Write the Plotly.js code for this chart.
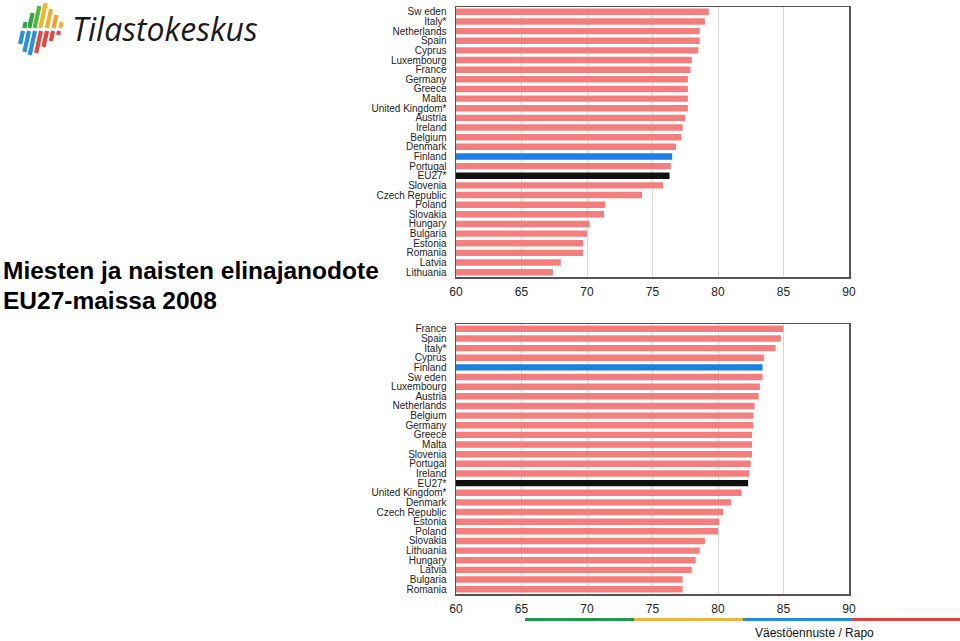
<!DOCTYPE html>
<html>
<head>
<meta charset="utf-8">
<script src="https://cdn.plot.ly/plotly-3.0.1.min.js"></script>
<style>
  html, body { margin: 0; padding: 0; background: #fff; }
  #chart { width: 960px; height: 641px; }
</style>
</head>
<body>
<div id="chart"></div>
<script>
// ---- Data: men's life expectancy 2008 (top chart) ----
const menCountries = ["Sw eden", "Italy*", "Netherlands", "Spain", "Cyprus", "Luxembourg", "France",
  "Germany", "Greece", "Malta", "United Kingdom*", "Austria", "Ireland", "Belgium", "Denmark",
  "Finland", "Portugal", "EU27*", "Slovenia", "Czech Republic", "Poland", "Slovakia", "Hungary",
  "Bulgaria", "Estonia", "Romania", "Latvia", "Lithuania"];
const menValues = [79.3, 79.0, 78.6, 78.6, 78.5, 78.0, 77.9,
  77.7, 77.7, 77.7, 77.7, 77.5, 77.3, 77.2, 76.8,
  76.5, 76.4, 76.3, 75.8, 74.2, 71.4, 71.3, 70.2,
  70.0, 69.7, 69.7, 68.0, 67.4];

// ---- Data: women's life expectancy 2008 (bottom chart) ----
const womenCountries = ["France", "Spain", "Italy*", "Cyprus", "Finland", "Sw eden", "Luxembourg",
  "Austria", "Netherlands", "Belgium", "Germany", "Greece", "Malta", "Slovenia", "Portugal",
  "Ireland", "EU27*", "United Kingdom*", "Denmark", "Czech Republic", "Estonia", "Poland",
  "Slovakia", "Lithuania", "Hungary", "Latvia", "Bulgaria", "Romania"];
const womenValues = [85.0, 84.8, 84.4, 83.5, 83.4, 83.4, 83.2,
  83.1, 82.8, 82.7, 82.7, 82.6, 82.6, 82.6, 82.5,
  82.4, 82.3, 81.8, 81.0, 80.4, 80.1, 80.0,
  79.0, 78.6, 78.3, 78.0, 77.3, 77.3];

const xTicks = [60, 65, 70, 75, 80, 85, 90];
const titleLines = ["Miesten ja naisten elinajanodote", "EU27-maissa 2008"];
const sourceText = "Väestöennuste / Rapo";
const logoText = "Tilastokeskus";

const BASE = "#f47e7e", FIN = "#1b7fe3", EU = "#111111";
function colorsFor(cats) {
  return cats.map(c => c === "Finland" ? FIN : (c === "EU27*" ? EU : BASE));
}

const W = 960, H = 641;
const px = x => x / W;
const py = y => 1 - y / H;

const traces = [
  { type: "bar", orientation: "h", x: menValues, y: menCountries,
    marker: { color: colorsFor(menCountries) }, xaxis: "x", yaxis: "y",
    hoverinfo: "x+y", showlegend: false },
  { type: "bar", orientation: "h", x: womenValues, y: womenCountries,
    marker: { color: colorsFor(womenCountries) }, xaxis: "x2", yaxis: "y2",
    hoverinfo: "x+y", showlegend: false }
];

const xBase = {
  range: [60, 90], tickmode: "array", tickvals: xTicks, ticktext: xTicks.map(String),
  showgrid: true, gridcolor: "#d6d6d6", gridwidth: 1,
  showline: true, mirror: true, linecolor: "#555", linewidth: 1.5,
  ticks: "", zeroline: false, fixedrange: true,
  tickfont: { family: "Liberation Sans, Arial, sans-serif", size: 12, color: "#222" },
  ticklabelstandoff: 3
};
const yBase = {
  type: "category", autorange: "reversed", showgrid: false,
  showline: true, mirror: true, linecolor: "#555", linewidth: 1.5,
  ticks: "", zeroline: false, fixedrange: true, tickmode: "array",
  tickfont: { family: "Liberation Sans, Arial, sans-serif", size: 10, color: "#222" },
  ticklabelstandoff: 6
};

const xDomain = [px(456), px(849)];
const layout = {
  width: W, height: H,
  margin: { l: 0, r: 0, t: 0, b: 0 },
  paper_bgcolor: "#fff", plot_bgcolor: "#fff",
  bargap: 0.33,
  showlegend: false,
  xaxis: Object.assign({}, xBase, { domain: xDomain, anchor: "y" }),
  yaxis: Object.assign({}, yBase, { domain: [py(277), py(7)], anchor: "x",
    categoryorder: "array", categoryarray: menCountries,
    tickvals: menCountries, ticktext: menCountries }),
  xaxis2: Object.assign({}, xBase, { domain: xDomain, anchor: "y2" }),
  yaxis2: Object.assign({}, yBase, { domain: [py(594), py(324)], anchor: "x2",
    categoryorder: "array", categoryarray: womenCountries,
    tickvals: womenCountries, ticktext: womenCountries }),
  annotations: [
    { xref: "paper", yref: "paper", x: px(1), y: py(271), xanchor: "left", yanchor: "middle",
      text: titleLines[0], showarrow: false,
      font: { family: "Liberation Sans, Arial, sans-serif", size: 24.5, color: "#000", weight: "bold" } },
    { xref: "paper", yref: "paper", x: px(1), y: py(300), xanchor: "left", yanchor: "middle",
      text: titleLines[1], showarrow: false,
      font: { family: "Liberation Sans, Arial, sans-serif", size: 24.5, color: "#000", weight: "bold" } },
    { xref: "paper", yref: "paper", x: px(753), y: py(633), xanchor: "left", yanchor: "middle",
      text: sourceText, showarrow: false,
      font: { family: "Liberation Sans, Arial, sans-serif", size: 12, color: "#111" } },
    { xref: "paper", yref: "paper", x: px(70), y: py(29), xanchor: "left", yanchor: "middle",
      text: logoText, showarrow: false,
      font: { family: "Open Sans, sans-serif", size: 32, color: "#1a1a1a", style: "italic" } }
  ],
  shapes: []
};

// Footer colour band
const bandColors = ["#1e9a4b", "#f0b43a", "#1f8fd6", "#e0413f"];
const bandEdges = [525, 634, 743, 852, 960];
for (let i = 0; i < 4; i++) {
  layout.shapes.push({ type: "line", xref: "paper", yref: "paper",
    x0: px(bandEdges[i]), x1: px(bandEdges[i + 1]), y0: py(619.5), y1: py(619.5),
    line: { color: bandColors[i], width: 3 } });
}

// Logo strips (decorative)
const strips = [
  { x: 25, top: 22, topColor: "#2aa84a", bottom: 44, botColor: "#2a8fdc" },
  { x: 31, top: 13, topColor: "#2aa84a", bottom: 52, botColor: "#2a8fdc" },
  { x: 37, top: 6,  topColor: "#5ab43c", bottom: 55, botColor: "#2a8fdc" },
  { x: 43, top: 3,  topColor: "#e8b830", bottom: 53, botColor: "#e04848" },
  { x: 49, top: 9,  topColor: "#f0b030", bottom: 47, botColor: "#e04848" },
  { x: 55, top: 15, topColor: "#f0a030", bottom: 41, botColor: "#e04848" },
  { x: 61, top: 22, topColor: "#f0b040", bottom: 35, botColor: "#e04848" }
];
const slant = 0.22;
strips.forEach(s => {
  const midTop = 28, midBot = 31;
  layout.shapes.push({ type: "line", xref: "paper", yref: "paper",
    x0: px(s.x - slant * (midTop - s.top) / 2), y0: py(midTop),
    x1: px(s.x + slant * (midTop - s.top) / 2), y1: py(s.top),
    line: { color: s.topColor, width: 4.2 } });
  layout.shapes.push({ type: "line", xref: "paper", yref: "paper",
    x0: px(s.x - 2 - slant * (s.bottom - midBot)), y0: py(s.bottom),
    x1: px(s.x - 2), y1: py(midBot),
    line: { color: s.botColor, width: 4.2 } });
});

Plotly.newPlot("chart", traces, layout, { displayModeBar: false, staticPlot: true });
</script>
</body>
</html>
